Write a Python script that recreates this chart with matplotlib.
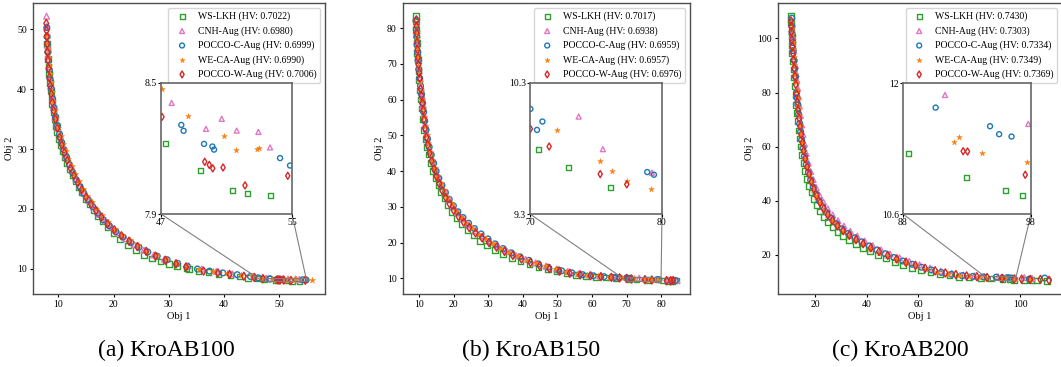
import matplotlib
matplotlib.use("Agg")
import matplotlib.pyplot as plt
from mpl_toolkits.axes_grid1.inset_locator import mark_inset

plt.rcParams['font.family'] = ['Liberation Serif', 'DejaVu Serif']

methods = ["WS-LKH", "CNH-Aug", "POCCO-C-Aug", "WE-CA-Aug", "POCCO-W-Aug"]
captions = ["(a) KroAB100", "(b) KroAB150", "(c) KroAB200"]
hv_a = ["0.7022", "0.6980", "0.6999", "0.6990", "0.7006"]
hv_b = ["0.7017", "0.6938", "0.6959", "0.6957", "0.6976"]
hv_c = ["0.7430", "0.7303", "0.7334", "0.7349", "0.7369"]

# (Obj 1, Obj 2) points
# ---------------- KroAB100 ----------------
a_ws = [(7.9, 47.5), (8.0, 46.5), (8.1, 45.0), (8.2, 43.8), (8.3, 42.6), (8.45, 41.0), (8.6, 39.8), (8.75, 38.7),
        (8.9, 37.5), (9.1, 36.2), (9.3, 35.0), (9.55, 33.9), (9.8, 32.8), (10.1, 31.7), (10.4, 30.7), (10.8, 29.7),
        (11.2, 28.7), (11.6, 27.7), (12.1, 26.6), (12.6, 25.6), (13.1, 24.7), (13.7, 23.7), (14.3, 22.8), (15.0, 21.7),
        (15.7, 20.8), (16.4, 19.8), (17.2, 18.8), (18.0, 17.9), (18.9, 16.9), (20.0, 15.9), (21.2, 14.9), (22.6, 13.9),
        (24.0, 13.1), (25.5, 12.3), (27.0, 11.7), (28.5, 11.2), (30.0, 10.75), (31.5, 10.4), (33.2, 10.05), (33.6, 9.95),
        (35.4, 9.65), (37.2, 9.4), (39.0, 9.15), (41.2, 8.9), (42.8, 8.7), (44.4, 8.45), (46.0, 8.35), (47.26, 8.221),
        (49.44, 8.101), (51.34, 8.008), (52.30, 7.996), (53.70, 7.985)]
a_cnh = [(7.85, 52.2), (7.9, 50.5), (7.95, 49.0), (8.05, 47.3), (8.15, 45.6), (8.3, 43.8), (8.45, 42.2), (8.65, 40.5),
         (8.9, 38.6), (9.15, 37.0), (9.5, 35.2), (9.9, 33.5), (10.3, 32.0), (10.8, 30.4), (11.3, 29.0), (11.9, 27.6),
         (12.5, 26.4), (13.2, 25.0), (13.9, 23.8), (14.7, 22.6), (15.5, 21.4), (16.4, 20.3), (17.4, 19.1), (18.5, 18.0),
         (19.6, 17.0), (20.8, 16.0), (22.2, 15.0), (23.8, 14.0), (25.5, 13.1), (27.3, 12.3), (29.2, 11.6), (31.3, 11.0),
         (33.5, 10.5), (36.0, 9.95), (38.6, 9.55), (41.5, 9.15), (45.5, 8.6), (47.65, 8.409), (49.75, 8.290),
         (50.71, 8.336), (51.62, 8.282), (52.95, 8.276), (53.66, 8.205)]
a_pc = [(7.9, 50.3), (7.95, 48.8), (8.0, 47.6), (8.1, 46.2), (8.2, 44.8), (8.35, 43.2), (8.5, 41.7), (8.7, 40.1),
        (8.95, 38.4), (9.2, 36.9), (9.5, 35.4), (9.85, 33.9), (10.2, 32.5), (10.6, 31.1), (11.0, 29.9), (11.5, 28.6),
        (12.0, 27.4), (12.6, 26.1), (13.2, 24.9), (13.9, 23.7), (14.6, 22.6), (15.4, 21.5), (16.2, 20.4), (17.1, 19.3),
        (18.1, 18.2), (19.2, 17.2), (20.4, 16.2), (21.7, 15.3), (23.1, 14.4), (24.6, 13.6), (26.2, 12.8), (27.9, 12.1),
        (29.7, 11.5), (31.6, 10.9), (33.4, 10.4), (35.2, 9.95), (37.4, 9.6), (39.8, 9.3), (42.4, 9.0), (44.8, 8.7),
        (46.2, 8.48), (48.24, 8.308), (48.38, 8.281), (49.63, 8.221), (50.14, 8.209), (50.24, 8.195), (54.27, 8.156),
        (54.88, 8.122)]
a_we = [(7.95, 49.0), (8.0, 47.8), (8.1, 46.5), (8.2, 45.2), (8.3, 44.0), (8.45, 42.6), (8.6, 41.2), (8.8, 39.6),
        (9.05, 38.0), (9.3, 36.6), (9.6, 35.2), (10.0, 33.6), (10.4, 32.2), (10.8, 30.9), (11.3, 29.6), (11.8, 28.4),
        (12.4, 27.1), (13.0, 25.9), (13.7, 24.6), (14.4, 23.4), (15.2, 22.2), (16.0, 21.1), (16.9, 20.0), (17.9, 18.9),
        (19.0, 17.8), (20.2, 16.7), (21.5, 15.7), (22.9, 14.8), (24.4, 13.9), (26.0, 13.0), (27.7, 12.3), (29.5, 11.6),
        (31.4, 11.0), (33.3, 10.5), (35.5, 10.0), (38.0, 9.55), (40.5, 9.25), (43.0, 8.95), (45.0, 8.75), (47.04, 8.474),
        (48.67, 8.349), (50.85, 8.256), (51.56, 8.194), (52.84, 8.198), (53.0, 8.203), (55.9, 8.16)]
a_pw = [(7.8, 51.0), (7.85, 49.8), (7.9, 48.8), (7.95, 47.6), (8.0, 46.2), (8.1, 44.9), (8.2, 43.5), (8.35, 42.0),
        (8.5, 40.6), (8.7, 39.2), (8.9, 37.8), (9.15, 36.4), (9.45, 35.0), (9.8, 33.5), (10.2, 32.0), (10.6, 30.7),
        (11.1, 29.4), (11.6, 28.1), (12.2, 26.8), (12.8, 25.6), (13.5, 24.4), (14.2, 23.2), (15.0, 22.0), (15.9, 20.8),
        (16.8, 19.7), (17.8, 18.6), (18.9, 17.5), (20.1, 16.5), (21.4, 15.5), (22.8, 14.6), (24.3, 13.7), (25.9, 12.9),
        (27.6, 12.1), (29.4, 11.4), (31.3, 10.8), (33.1, 10.3), (36.3, 9.6), (38.9, 9.3), (41.0, 9.05), (43.6, 8.75),
        (45.5, 8.55), (47.06, 8.345), (49.67, 8.139), (49.95, 8.125), (50.16, 8.109), (50.79, 8.113), (52.13, 8.031),
        (54.74, 8.075)]

# ---------------- KroAB150 ----------------
b_ws = [(9.1, 83.3), (9.1, 82.0), (9.15, 79.5), (9.2, 78.2), (9.3, 75.8), (9.45, 73.0), (9.6, 71.0), (9.8, 68.0),
        (10.0, 65.5), (10.3, 62.5), (10.6, 60.0), (10.9, 57.5), (11.2, 54.5), (11.5, 51.5), (11.9, 49.0), (12.3, 46.8),
        (12.8, 44.6), (13.4, 42.3), (14.1, 40.0), (14.8, 38.0), (15.6, 36.0), (16.4, 34.2), (17.3, 32.3), (18.3, 30.5),
        (19.5, 28.6), (20.8, 26.9), (22.3, 25.2), (24.0, 23.5), (25.8, 22.0), (27.7, 20.5), (29.7, 19.2), (31.9, 17.9),
        (34.3, 16.8), (36.8, 15.7), (39.3, 14.8), (41.9, 14.0), (44.5, 13.2), (47.2, 12.5), (49.9, 12.0), (52.6, 11.5),
        (55.4, 11.0), (58.3, 10.7), (61.2, 10.45), (64.1, 10.2), (67.0, 10.0), (70.64, 9.79), (72.93, 9.658),
        (76.13, 9.50), (80.5, 9.4), (82.0, 9.32), (83.2, 9.3), (84.5, 9.35)]
b_cnh = [(9.2, 82.5), (9.3, 79.0), (9.4, 76.5), (9.55, 74.0), (9.75, 71.2), (9.95, 68.8), (10.2, 66.0), (10.5, 63.3),
         (10.8, 60.8), (11.1, 58.2), (11.4, 55.8), (11.8, 53.0), (12.2, 50.6), (12.7, 48.0), (13.3, 45.5), (14.0, 43.0),
         (14.8, 40.5), (15.6, 38.3), (16.5, 36.2), (17.5, 34.1), (18.6, 32.1), (19.8, 30.2), (21.2, 28.4), (22.7, 26.7),
         (24.4, 25.0), (26.3, 23.3), (28.3, 21.8), (30.5, 20.3), (32.9, 18.9), (35.4, 17.6), (38.0, 16.4), (40.8, 15.3),
         (43.7, 14.3), (46.7, 13.4), (49.8, 12.6), (53.0, 11.9), (56.2, 11.3), (59.4, 10.9), (62.5, 10.6), (66.0, 10.3),
         (73.69, 10.044), (75.52, 9.795), (79.24, 9.615), (82.0, 9.45), (84.6, 9.4)]
b_pc = [(9.1, 82.0), (9.2, 79.8), (9.3, 77.5), (9.4, 75.3), (9.55, 73.2), (9.7, 71.0), (9.9, 68.5), (10.1, 66.0),
        (10.4, 63.8), (10.7, 61.5), (11.0, 59.0), (11.3, 56.5), (11.6, 54.0), (12.0, 51.5), (12.4, 49.0), (12.9, 46.7),
        (13.5, 44.5), (14.2, 42.2), (14.9, 40.0), (15.7, 38.0), (16.6, 36.0), (17.6, 34.0), (18.7, 32.1), (19.9, 30.3),
        (21.2, 28.6), (22.7, 27.0), (24.3, 25.4), (26.0, 23.9), (27.9, 22.4), (29.9, 21.0), (32.0, 19.6), (34.3, 18.3),
        (36.7, 17.1), (39.2, 16.0), (41.8, 15.0), (44.5, 14.0), (47.3, 13.1), (50.2, 12.3), (51.2, 12.1), (54.2, 11.5),
        (57.3, 11.0), (60.4, 10.7), (63.5, 10.45), (66.6, 10.25), (67.8, 10.2), (70.03, 10.102), (70.53, 9.942),
        (70.94, 10.006), (78.88, 9.62), (79.39, 9.60), (83.0, 9.45), (84.1, 9.4)]
b_we = [(9.2, 81.0), (9.25, 79.0), (9.3, 77.0), (9.4, 74.5), (9.55, 72.0), (9.75, 69.5), (9.95, 67.0), (10.2, 64.8),
        (10.5, 62.5), (10.8, 60.0), (11.1, 57.5), (11.4, 55.0), (11.8, 52.5), (12.2, 50.0), (12.6, 47.8), (13.2, 45.4),
        (13.8, 43.1), (14.5, 40.9), (15.3, 38.7), (16.2, 36.6), (17.1, 34.6), (18.2, 32.6), (19.4, 30.7), (20.7, 28.9),
        (22.1, 27.2), (23.7, 25.6), (25.4, 24.0), (27.3, 22.5), (29.3, 21.1), (31.4, 19.8), (33.7, 18.5), (36.1, 17.3),
        (38.6, 16.2), (41.2, 15.2), (43.9, 14.2), (46.7, 13.3), (49.6, 12.5), (52.6, 11.8), (55.6, 11.2), (58.7, 10.8),
        (61.8, 10.5), (65.0, 10.25), (68.8, 10.05), (72.04, 9.942), (75.32, 9.701), (76.23, 9.627), (77.33, 9.554),
        (79.19, 9.493), (82.5, 9.4)]
b_pw = [(9.2, 82.3), (9.25, 80.5), (9.3, 78.5), (9.4, 76.0), (9.5, 74.0), (9.65, 71.8), (9.8, 69.8), (10.0, 67.5),
        (10.2, 66.0), (10.4, 63.0), (10.7, 61.0), (11.0, 59.0), (11.2, 57.0), (11.4, 54.5), (11.7, 52.0), (12.1, 49.5),
        (12.5, 47.3), (13.0, 45.0), (13.6, 42.8), (14.3, 40.6), (15.0, 38.5), (15.8, 36.5), (16.7, 34.5), (17.7, 32.6),
        (18.8, 30.8), (20.0, 29.0), (21.4, 27.3), (22.9, 25.7), (24.5, 24.2), (26.3, 22.7), (28.2, 21.3), (30.2, 20.0),
        (32.4, 18.7), (34.7, 17.5), (37.1, 16.4), (39.6, 15.4), (42.2, 14.4), (44.9, 13.5), (47.7, 12.7), (50.6, 12.0),
        (53.6, 11.4), (56.6, 10.95), (59.6, 10.7), (62.6, 10.45), (65.6, 10.25), (68.0, 10.1), (70.03, 9.95),
        (71.45, 9.815), (75.32, 9.605), (77.33, 9.526), (81.6, 9.35), (82.8, 9.3), (83.5, 9.35)]

# ---------------- KroAB200 ----------------
c_ws = [(10.5, 108.2), (10.5, 106.0), (10.6, 103.0), (10.7, 100.5), (10.8, 97.5), (10.95, 94.5), (11.15, 91.5),
        (11.4, 88.5), (11.65, 85.5), (11.9, 82.5), (12.2, 79.0), (12.5, 75.5), (12.8, 72.5), (13.1, 69.5), (13.5, 66.0),
        (13.85, 63.0), (14.25, 60.0), (14.7, 57.0), (15.3, 54.0), (15.9, 51.0), (16.7, 48.0), (17.5, 45.5), (18.4, 43.0),
        (19.4, 40.5), (20.5, 38.3), (21.8, 36.0), (23.2, 34.0), (24.8, 32.0), (26.6, 30.2), (28.6, 28.5), (30.8, 26.9),
        (33.2, 25.4), (35.8, 24.0), (38.5, 22.6), (41.4, 21.2), (44.4, 19.8), (47.6, 18.6), (50.9, 17.4), (54.3, 16.3),
        (57.8, 15.2), (61.3, 14.3), (64.9, 13.6), (68.6, 12.9), (72.3, 12.4), (76.1, 11.9), (79.8, 11.65), (84.6, 11.5),
        (88.45, 11.247), (92.96, 10.994), (96.0, 10.849), (97.37, 10.802), (101.5, 10.75), (104.0, 10.6),
        (106.5, 10.5), (110.4, 10.4)]
c_cnh = [(10.8, 103.0), (11.0, 101.0), (11.2, 98.5), (11.5, 95.5), (11.8, 92.5), (12.1, 90.0), (12.4, 87.0),
         (12.7, 84.5), (13.0, 81.5), (13.3, 78.5), (13.7, 75.0), (14.1, 71.5), (14.6, 68.0), (15.1, 64.5), (15.7, 61.0),
         (16.4, 57.5), (17.2, 54.0), (18.1, 50.8), (19.1, 47.8), (20.3, 44.8), (21.6, 42.0), (23.1, 39.5), (24.8, 37.0),
         (26.7, 34.7), (28.8, 32.6), (31.1, 30.6), (33.6, 28.7), (36.3, 26.9), (39.2, 25.1), (42.3, 23.4), (45.6, 21.8),
         (49.1, 20.3), (52.8, 18.9), (56.6, 17.6), (60.6, 16.3), (64.7, 15.1), (68.9, 14.0), (73.2, 13.1), (77.8, 12.5),
         (82.0, 12.2), (86.0, 12.0), (91.28, 11.872), (97.79, 11.563), (101.5, 11.6), (104.5, 11.3)]
c_pc = [(10.7, 107.5), (10.8, 104.5), (10.9, 101.5), (11.1, 98.5), (11.3, 95.5), (11.6, 92.0), (11.9, 88.8),
        (12.2, 85.8), (12.6, 80.0), (12.8, 78.0), (13.1, 75.5), (13.4, 72.0), (13.8, 68.5), (14.2, 65.5), (14.6, 62.5),
        (15.1, 59.5), (15.7, 56.5), (16.4, 53.5), (17.2, 50.5), (18.1, 47.7), (19.1, 45.0), (20.2, 42.5), (21.4, 40.0),
        (22.8, 37.8), (24.4, 35.6), (26.2, 33.5), (28.2, 31.5), (30.4, 29.6), (32.8, 27.9), (35.4, 26.3), (38.1, 24.8),
        (41.0, 23.3), (44.0, 21.8), (47.2, 20.4), (50.6, 19.0), (54.1, 17.7), (57.7, 16.5), (61.4, 15.4), (65.2, 14.4),
        (69.1, 13.5), (73.1, 12.8), (77.3, 12.3), (81.4, 12.0), (85.5, 11.8), (90.55, 11.737), (94.8, 11.538),
        (95.51, 11.453), (96.48, 11.428), (103.5, 11.0), (109.5, 11.4)]
c_we = [(10.6, 106.0), (10.7, 104.0), (10.9, 101.5), (11.1, 98.5), (11.3, 96.0), (11.5, 93.0), (11.8, 90.0),
        (12.1, 87.0), (12.4, 84.0), (12.7, 81.0), (13.0, 78.0), (13.3, 74.5), (13.6, 71.5), (14.0, 68.0), (14.3, 64.5),
        (14.7, 61.5), (15.2, 58.5), (15.8, 55.5), (16.5, 52.5), (17.3, 49.5), (18.2, 46.8), (19.2, 44.0), (20.3, 41.5),
        (21.6, 39.0), (23.0, 36.6), (24.6, 34.6), (26.4, 32.6), (28.4, 30.8), (30.6, 28.9), (33.0, 27.1), (35.6, 25.5),
        (38.4, 24.0), (41.4, 22.3), (44.6, 20.8), (48.0, 19.4), (51.6, 18.1), (55.4, 16.9), (59.3, 15.7), (63.3, 14.6),
        (67.4, 13.7), (71.6, 13.0), (75.9, 12.5), (80.0, 12.1), (84.0, 11.8), (86.5, 11.6), (91.99, 11.374),
        (92.36, 11.42), (94.17, 11.25), (97.68, 11.154), (104.0, 11.0)]
c_pw = [(10.4, 106.5), (10.5, 104.5), (10.6, 102.5), (10.8, 99.5), (11.0, 97.0), (11.2, 94.5), (11.4, 92.0),
        (11.7, 89.0), (12.0, 86.0), (12.3, 83.0), (12.6, 79.5), (12.9, 76.5), (13.2, 73.5), (13.6, 70.5), (14.0, 67.5),
        (14.4, 64.5), (14.9, 61.5), (15.4, 58.5), (16.0, 55.5), (16.7, 52.5), (17.5, 49.8), (18.4, 47.0), (19.4, 44.3),
        (20.5, 41.8), (21.8, 39.3), (23.2, 37.0), (24.8, 34.8), (26.6, 32.7), (28.6, 30.7), (30.8, 28.9), (33.2, 27.2),
        (35.8, 25.6), (38.6, 24.1), (41.6, 22.6), (44.8, 21.2), (48.2, 19.8), (51.7, 18.5), (55.3, 17.3), (59.0, 16.1),
        (62.8, 15.0), (66.7, 14.1), (70.7, 13.3), (74.8, 12.7), (79.0, 12.2), (83.0, 11.9), (87.0, 11.6),
        (92.7, 11.271), (93.04, 11.268), (97.55, 11.019), (100.5, 11.0), (103.8, 10.9), (107.8, 10.9), (111.2, 10.6)]

panels = [
    dict(series=[a_ws, a_cnh, a_pc, a_we, a_pw], hv=hv_a, xlim=(47, 55), ylim=(7.9, 8.5)),
    dict(series=[b_ws, b_cnh, b_pc, b_we, b_pw], hv=hv_b, xlim=(70, 80), ylim=(9.3, 10.3)),
    dict(series=[c_ws, c_cnh, c_pc, c_we, c_pw], hv=hv_c, xlim=(88, 98), ylim=(10.6, 12)),
]

styles = [
    dict(marker='s', color='#2ca02c', hollow=True),
    dict(marker='^', color='#e377c2', hollow=True),
    dict(marker='o', color='#1f77b4', hollow=True),
    dict(marker='*', color='#ff7f0e', hollow=False),
    dict(marker='d', color='#d62728', hollow=True),
]

W, H = 1061, 367
fig = plt.figure(figsize=(W / 100, H / 100), dpi=100)

main_px = [(33, 325), (403, 690), (778, 1062)]
inset_px = [(161, 292), (530, 662), (903, 1031)]
cap_x = [166, 531, 900]
top_px, bot_px = 3, 294
in_top, in_bot = 83, 214
spine_col = '0.3'

for k, (p, (l, r), (il, ir), cx) in enumerate(zip(panels, main_px, inset_px, cap_x)):
    ax = fig.add_axes([l / W, (H - bot_px) / H, (r - l) / W, (bot_px - top_px) / H])
    axins = fig.add_axes([il / W, (H - in_bot) / H, (ir - il) / W, (in_bot - in_top) / H])
    for pts, st, name, hv in zip(p['series'], styles, methods, p['hv']):
        x = [q[0] for q in pts]
        y = [q[1] for q in pts]
        for a in (ax, axins):
            lab = f"{name} (HV: {hv})" if a is ax else None
            sz = 17 if a is ax else 13
            if st['hollow']:
                a.scatter(x, y, s=sz, marker=st['marker'], facecolors='none',
                          edgecolors=st['color'], linewidths=1.0, label=lab)
            else:
                a.scatter(x, y, s=sz + 5, marker=st['marker'], color=st['color'],
                          linewidths=0.3, label=lab)
    ax.set_xlabel('Obj 1', fontsize=7.5, labelpad=2)
    ax.set_ylabel('Obj 2', fontsize=7.5, labelpad=2)
    ax.tick_params(labelsize=7, length=2.5, width=0.8, pad=2)
    for sp in ax.spines.values():
        sp.set_color(spine_col)
        sp.set_linewidth(1.0)
    ax.legend(loc='upper right', fontsize=7, handletextpad=0.6, markerscale=0.85)

    axins.set_xlim(*p['xlim'])
    axins.set_ylim(*p['ylim'])
    axins.set_xticks(list(p['xlim']))
    axins.set_yticks(list(p['ylim']))
    axins.set_xticklabels([f"{v:g}" for v in p['xlim']])
    axins.set_yticklabels([f"{v:g}" for v in p['ylim']])
    axins.tick_params(labelsize=7, length=2, width=0.8, pad=1)
    for sp in axins.spines.values():
        sp.set_color('0.4')
        sp.set_linewidth(1.2)
    mark_inset(ax, axins, loc1=3, loc2=4, fc='none', ec='0.5', lw=0.8)

    fig.text(cx / W, 1 - 350 / H, captions[k], ha='center', va='center', fontsize=17)

fig.savefig('out.png', dpi=100)
